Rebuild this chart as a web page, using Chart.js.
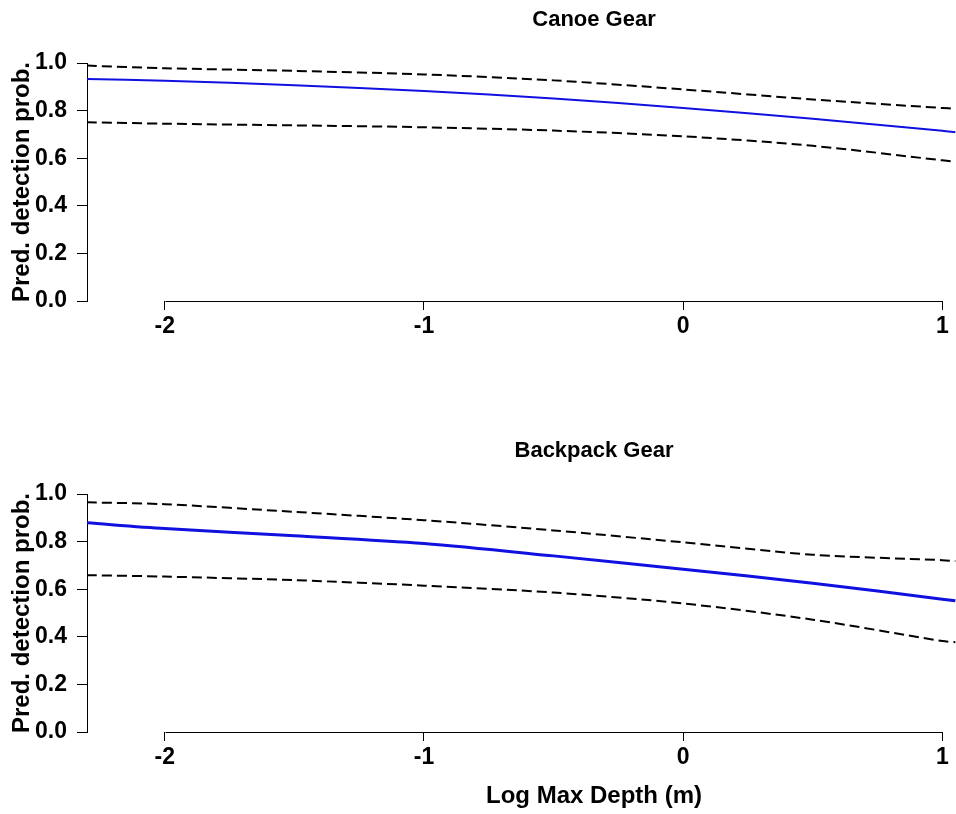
<!DOCTYPE html>
<html>
<head>
<meta charset="utf-8">
<script src="https://cdn.jsdelivr.net/npm/chart.js@4"></script>
<style>
  body { margin: 0; background: #fff; }
  #wrap { position: relative; width: 956px; height: 814px; overflow: hidden; background: #fff; }
  canvas { position: absolute; left: 0; }
  #top { top: 0; }
  #bottom { top: 431px; }
</style>
</head>
<body>
<div id="wrap">
  <canvas id="top" width="1184" height="431"></canvas>
  <canvas id="bottom" width="1184" height="383"></canvas>
</div>
<script>
// log max depth (m)
const depth = [-2.3, -2, -1.5, -1, -0.5, 0, 0.5, 1, 1.05];

// canoe gear: fitted probability + interval
const canoeFit   = [0.933, 0.925, 0.907, 0.882, 0.851, 0.811, 0.766, 0.715, 0.709];
const canoeUpper = [0.989, 0.978, 0.967, 0.952, 0.927, 0.889, 0.847, 0.811, 0.808];
const canoeLower = [0.751, 0.745, 0.738, 0.730, 0.716, 0.692, 0.652, 0.591, 0.585];

// backpack gear
const backpackFit   = [0.879, 0.855, 0.825, 0.792, 0.740, 0.684, 0.625, 0.558, 0.551];
const backpackUpper = [0.965, 0.957, 0.925, 0.890, 0.847, 0.797, 0.745, 0.722, 0.718];
const backpackLower = [0.659, 0.653, 0.638, 0.615, 0.586, 0.540, 0.472, 0.382, 0.377];

const xTicks = [-2, -1, 0, 1];
const yTicks = [0, 0.2, 0.4, 0.6, 0.8, 1.0];

const FONT = '"Liberation Sans", Arial, sans-serif';
Chart.defaults.color = '#000';
Chart.defaults.font.family = FONT;

function pts(ys) {
  return depth.map((x, i) => ({ x: x, y: ys[i] }));
}

// R style x axis: line only from first to last tick
const axisLine = {
  id: 'axisLine',
  afterDraw(chart) {
    const sx = chart.scales.x;
    const ctx = chart.ctx;
    const y = Math.round(chart.chartArea.bottom) + 0.5;
    ctx.save();
    ctx.strokeStyle = '#000';
    ctx.lineWidth = 1;
    ctx.beginPath();
    ctx.moveTo(Math.round(sx.getPixelForValue(xTicks[0])) + 0.5, y);
    ctx.lineTo(Math.round(sx.getPixelForValue(xTicks[xTicks.length - 1])) + 0.5, y);
    ctx.stroke();
    ctx.restore();
  }
};

function makePanel(id, title, fit, upper, lower, fitWidth, showXTitle, xHeight) {
  const dash = { borderColor: '#000', borderWidth: 2, borderDash: [10, 5], pointRadius: 0, tension: 0.3 };
  new Chart(document.getElementById(id), {
    type: 'line',
    data: {
      datasets: [
        Object.assign({ label: 'upper', data: pts(upper) }, dash),
        Object.assign({ label: 'lower', data: pts(lower) }, dash),
        { label: 'fit', data: pts(fit), borderColor: '#1010e0', borderWidth: fitWidth, pointRadius: 0, tension: 0.3 }
      ]
    },
    options: {
      responsive: false,
      animation: false,
      layout: { padding: { left: 0, right: 83, top: 0, bottom: 0 } },
      plugins: {
        legend: { display: false },
        tooltip: { enabled: false },
        title: {
          display: true,
          text: title,
          fullSize: false,
          color: '#000',
          font: { size: 22, weight: 'bold', family: FONT },
          padding: { top: 6.5, bottom: 30.1 }
        }
      },
      scales: {
        x: {
          type: 'linear',
          min: -2.3,
          max: 1.612,
          border: { display: false },
          grid: { drawOnChartArea: false, drawTicks: true, tickLength: 9, color: '#000' },
          afterBuildTicks: s => { s.ticks = xTicks.map(v => ({ value: v })); },
          afterFit: s => { s.height = xHeight; },
          ticks: {
            padding: 3,
            maxRotation: 0,
            font: { size: 23, weight: 'bold', family: FONT },
            callback: v => String(v)
          },
          title: {
            display: showXTitle,
            text: 'Log Max Depth (m)',
            font: { size: 24, weight: 'bold', family: FONT },
            padding: { top: 0, bottom: 3 }
          }
        },
        y: {
          min: 0,
          max: 1,
          border: { display: true, color: '#000', width: 1 },
          grid: { drawOnChartArea: false, drawTicks: true, tickLength: 10, color: '#000' },
          afterBuildTicks: s => { s.ticks = yTicks.map(v => ({ value: v })); },
          afterFit: s => { s.width = 87; },
          ticks: {
            padding: 10,
            font: { size: 23, weight: 'bold', family: FONT },
            callback: v => Number(v).toFixed(1)
          },
          title: {
            display: true,
            text: 'Pred. detection prob.',
            font: { size: 24, weight: 'bold', family: FONT },
            padding: { top: 8, bottom: 0 }
          }
        }
      }
    },
    plugins: [axisLine]
  });
}

makePanel('top', 'Canoe Gear', canoeFit, canoeUpper, canoeLower, 2, false, 130);
makePanel('bottom', 'Backpack Gear', backpackFit, backpackUpper, backpackLower, 3, true, 82);
</script>
</body>
</html>
